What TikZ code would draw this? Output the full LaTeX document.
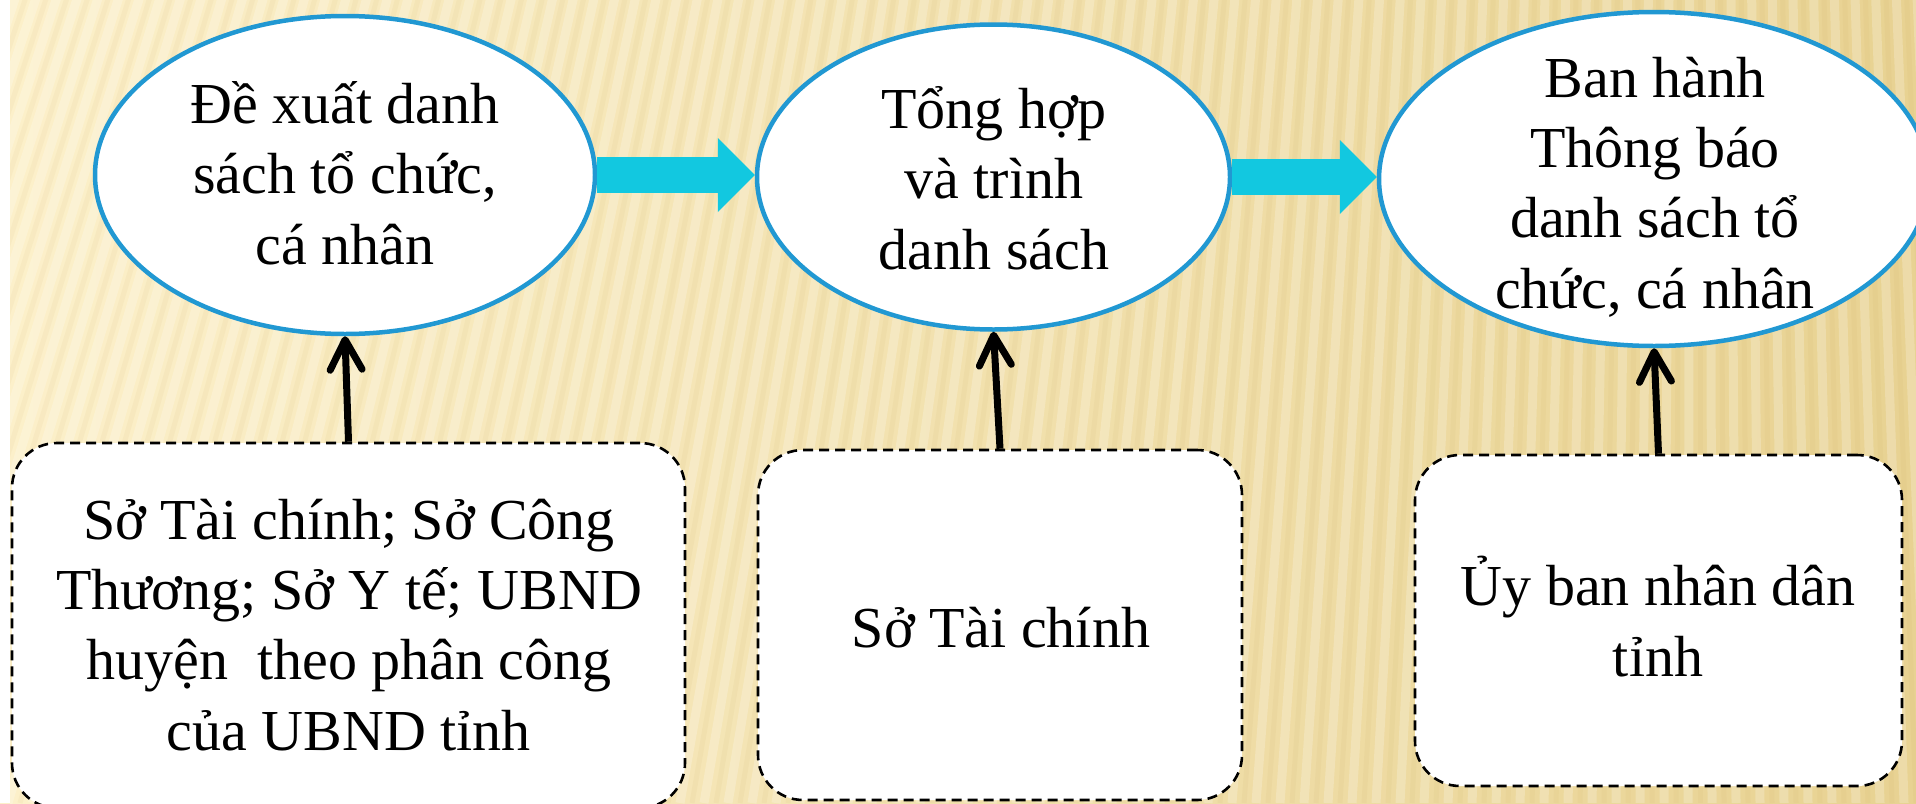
\documentclass[tikz,border=0pt]{standalone}
\usepackage{fontspec}
\setmainfont{Liberation Serif}
\usetikzlibrary{shapes.geometric,arrows.meta}
\definecolor{bgL}{RGB}{252,240,202}
\definecolor{bgM}{RGB}{246,228,172}
\definecolor{bgR}{RGB}{232,210,146}
\definecolor{ringblue}{RGB}{33,152,210}
\definecolor{flowcyan}{RGB}{18,200,224}
\definecolor{stripedark}{RGB}{185,150,70}
\begin{document}
\begin{tikzpicture}[x=1pt,y=-1pt,
  stageoval/.style={ellipse, draw=ringblue, line width=4.5pt, fill=white, inner sep=0pt},
  agentbox/.style={rectangle, rounded corners=45pt, draw=black, line width=2.6pt,
    dash pattern=on 10pt off 6pt, fill=white, inner sep=0pt},
  bodytext/.style={font=\fontsize{58}{70.3}\selectfont, align=center, anchor=base, inner sep=0pt},
  flowarrow/.style={draw=flowcyan, line width=36pt,
    -{Triangle[length=37pt,width=74pt,line width=0pt,fill=flowcyan,color=flowcyan]}},
  feedarrow/.style={draw=black, line width=7pt,
    -{Straight Barb[length=30pt,width=32pt,round]}}
]
% background
\useasboundingbox (0,0) rectangle (1916,803);
\shade[left color=bgL, middle color=bgM, right color=bgR] (0,0) rectangle (1916,803);
\begin{scope}
  \clip (10,0) rectangle (1916,803);
  \foreach \k in {0,...,100} {
    \pgfmathsetmacro{\xb}{-400+\k*24}
    \draw[white, opacity=0.22, line width=9pt] (1700,-5000) -- (\xb,803);
    \draw[stripedark, opacity=0.06, line width=5pt] (1700,-5000) -- (\xb+12,803);
  }
\end{scope}
\fill[white] (0,0) rectangle (10,803);

% stages
\node[stageoval, minimum width=500pt, minimum height=318pt] (e1) at (345,175) {};
\node[stageoval, minimum width=473pt, minimum height=305pt] (e2) at (993.5,177) {};
\node[stageoval, minimum width=550pt, minimum height=334pt] (e3) at (1654,179) {};

% responsible bodies
\node[agentbox, minimum width=673pt, minimum height=365pt] (b1) at (348.5,625.5) {};
\node[agentbox, minimum width=484pt, minimum height=350pt] (b2) at (1000,625) {};
\node[agentbox, minimum width=487pt, minimum height=331pt] (b3) at (1658.5,620.5) {};

% flow arrows (horizontal)
\draw[flowarrow] (e1.east) -- (e1.east -| e2.west);
\draw[flowarrow] (e2.east) -- (e2.east -| e3.west);

% feed arrows
\draw[feedarrow] (b1.north) -- (e1.south);
\draw[feedarrow] (b2.north) -- (e2.south);
\draw[feedarrow] (b3.north) -- (e3.south);

% texts (base anchor = baseline of the last line)
\node[bodytext] (t1) at (345,264) {Đề xuất danh\\sách tổ chức,\\cá nhân};
\node[bodytext] (t2) at (994,269) {Tổng hợp\\và trình\\danh sách};
\node[bodytext] (t3) at (1655,308) {Ban hành\\Thông báo\\danh sách tổ\\chức, cá nhân};
\node[bodytext] (t4) at (349,750) {Sở Tài chính; Sở Công\\Thương; Sở Y tế; UBND\\huyện\ \ theo phân công\\của UBND tỉnh};
\node[bodytext] (t5) at (1001,647) {Sở Tài chính};
\node[bodytext] (t6) at (1658,676) {Ủy ban nhân dân\\tỉnh};
\end{tikzpicture}
\end{document}
